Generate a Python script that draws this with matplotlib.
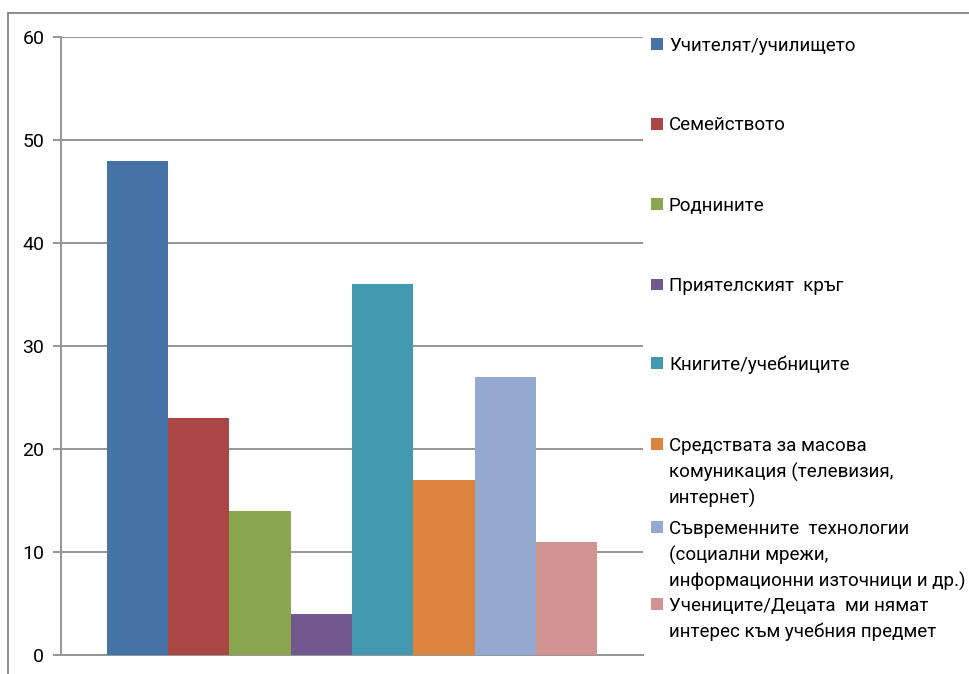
import matplotlib
matplotlib.use("Agg")
import matplotlib.pyplot as plt
from matplotlib.patches import Rectangle
from matplotlib.lines import Line2D

plt.rcParams["font.family"] = ["Roboto", "DejaVu Sans"]

categories = [
    "Учителят/училището",
    "Семейството",
    "Роднините",
    "Приятелският  кръг",
    "Книгите/учебниците",
    "Средствата за масова\nкомуникация (телевизия,\nинтернет)",
    "Съвременните  технологии\n(социални мрежи,\nинформационни източници и др.)",
    "Учениците/Децата  ми нямат\nинтерес към учебния предмет",
]
values = [48, 23, 14, 4, 36, 17, 27, 11]
colors = ["#4572A7", "#AA4643", "#89A54E", "#71588F",
          "#4198AF", "#DB843D", "#93A9CF", "#D19392"]
y_ticks = [0, 10, 20, 30, 40, 50, 60]

W, H = 970, 674
fig = plt.figure(figsize=(W / 100, H / 100), dpi=100)

# plot area in pixel coordinates
left, right, top, bottom = 61, 643, 37, 655
ax = fig.add_axes([left / W, 1 - bottom / H, (right - left) / W, (bottom - top) / H])

grid_color = "#959595"
x = list(range(len(values)))
ax.bar(x, values, width=1.0, color=colors, zorder=3)
ax.set_xlim(-1.25, len(values) + 0.25)
ax.set_ylim(0, 60)
ax.set_yticks(y_ticks)
ax.set_xticks([])
ax.yaxis.grid(True, color=grid_color, linewidth=1.4, zorder=0)
ax.set_axisbelow(True)
for side in ("top", "right"):
    ax.spines[side].set_visible(False)
for side in ("left", "bottom"):
    ax.spines[side].set_color(grid_color)
    ax.spines[side].set_linewidth(1.4)
ax.tick_params(axis="y", direction="out", length=6, width=1.4, color=grid_color,
               labelsize=14, labelcolor="black", pad=6)

# outer chart frame
fig.add_artist(Line2D([8 / W, 1.0], [1 - 13 / H, 1 - 13 / H], color="#8c8c8c", linewidth=1.4))
fig.add_artist(Line2D([8 / W, 8 / W], [0.0, 1 - 13 / H], color="#8c8c8c", linewidth=1.4))

# legend on the right
entry_y = [44, 123.5, 204, 284.5, 362.5, 444, 527, 604]
line_step = 26
sq = 12
for label, color, yc in zip(categories, colors, entry_y):
    fig.add_artist(Rectangle((651 / W, 1 - (yc + sq / 2) / H), sq / W, sq / H,
                             facecolor=color, edgecolor="none",
                             transform=fig.transFigure))
    for i, line in enumerate(label.split("\n")):
        fig.text(669 / W, 1 - (yc + 2 + i * line_step) / H, line,
                 fontsize=13.5, va="center", ha="left", color="black")

fig.savefig("out.png", dpi=100)
